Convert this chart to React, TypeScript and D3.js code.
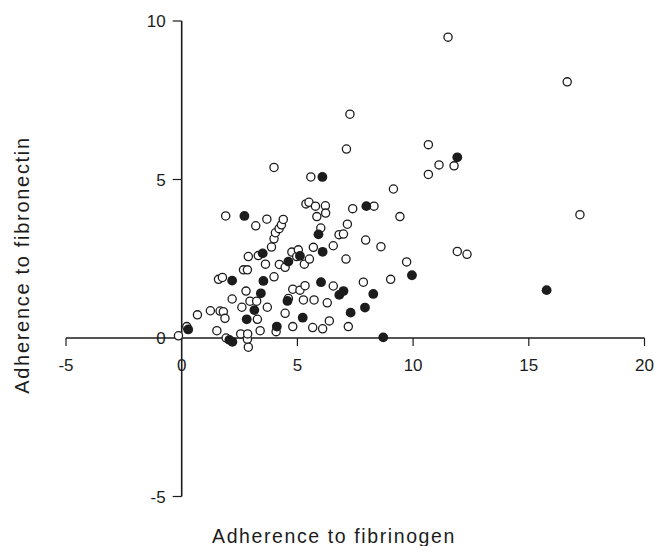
import React from "react";
import * as d3 from "d3";

const openX = [-0.14,0.22,0.68,1.24,1.52,1.66,1.80,1.87,1.92,1.59,1.76,1.90,2.18,2.55,2.60,2.67,2.78,2.84,2.84,2.85,2.88,2.88,2.95,3.20,3.24,3.27,3.31,3.39,3.62,3.68,3.70,3.88,3.99,3.99,3.99,4.05,4.08,4.21,4.31,4.39,4.22,4.47,4.47,4.61,4.76,4.80,4.80,4.97,5.04,5.11,5.26,5.30,5.33,5.37,5.50,5.52,5.58,5.66,5.69,5.72,5.78,5.84,6.01,6.09,6.21,6.22,6.29,6.38,6.55,6.55,6.80,6.99,7.10,7.12,7.16,7.20,7.27,7.39,7.85,7.95,8.31,8.61,9.03,9.15,9.43,9.72,10.66,10.66,11.12,11.51,11.77,11.91,12.33,16.66,17.21];
const openY = [0.07,0.36,0.73,0.86,0.23,0.85,0.83,0.62,0.00,1.85,1.91,3.85,1.23,0.13,0.97,2.15,1.48,2.15,-0.04,0.13,-0.29,2.57,1.16,3.54,1.16,0.59,2.60,0.23,2.33,3.75,0.97,2.87,3.13,1.93,5.38,3.32,0.20,3.45,3.57,3.74,2.32,2.23,0.78,1.25,2.71,1.54,0.36,2.57,2.78,1.51,1.20,2.33,1.65,4.23,4.28,2.49,5.08,0.33,2.86,1.20,4.16,3.83,3.47,0.29,4.17,3.94,1.11,0.54,2.91,1.64,3.26,3.28,2.49,5.96,3.59,0.36,7.06,4.08,1.76,3.09,4.16,2.88,1.85,4.70,3.83,2.40,6.10,5.16,5.46,9.49,5.43,2.73,2.64,8.08,3.89];

const filledX = [0.28,2.06,2.19,2.18,2.71,2.81,3.14,3.42,3.50,3.53,4.11,4.57,4.61,5.11,5.23,5.91,6.02,6.08,6.09,6.81,6.99,7.30,7.92,7.98,8.28,8.71,9.95,11.91,15.77];
const filledY = [0.27,-0.06,-0.12,1.81,3.85,0.59,0.88,1.41,2.67,1.80,0.36,1.17,2.41,2.59,0.64,3.27,1.76,5.08,2.72,1.36,1.48,0.80,0.96,4.16,1.39,0.02,1.98,5.70,1.51];

const xTicks = [-5, 0, 5, 10, 15, 20];
const yTicks = [-5, 0, 5, 10];
const xTitle = "Adherence to fibrinogen";
const yTitle = "Adherence to fibronectin";

const W = 655;
const H = 546;
const FONT = "'Liberation Sans', Arial, sans-serif";
const INK = "#1c1c1c";

export default function App() {
  const x = d3.scaleLinear().domain([-5, 20]).range([66, 644.5]);
  const y = d3.scaleLinear().domain([-5, 10]).range([496.5, 21]);
  const x0 = x(0);
  const y0 = y(0);

  const openPts = openX.map((v, i) => [v, openY[i]]);
  const filledPts = filledX.map((v, i) => [v, filledY[i]]);

  return (
    <svg
      width={W}
      height={H}
      style={{ position: "absolute", left: 0, top: 0, background: "#fff" }}
      fontFamily={FONT}
    >
      <rect x={0} y={0} width={W} height={H} fill="#fff" />
      {/* x axis */}
      <line x1={x(-5)} x2={x(20)} y1={y0} y2={y0} stroke={INK} strokeWidth={1.6} />
      {xTicks.map((t) => (
        <g key={"xt" + t}>
          {t !== 0 && (
            <line x1={x(t)} x2={x(t)} y1={y0} y2={y0 + 8} stroke={INK} strokeWidth={1.2} />
          )}
          <text
            x={x(t)}
            y={371}
            textAnchor="middle"
            fontSize={17}
            fill={INK}
          >
            {t}
          </text>
        </g>
      ))}
      {/* y axis */}
      <line x1={x0} x2={x0} y1={y(10)} y2={y(-5)} stroke={INK} strokeWidth={1.6} />
      {yTicks.map((t) => (
        <g key={"yt" + t}>
          {t !== 0 && (
            <line x1={x0 - 9} x2={x0} y1={y(t)} y2={y(t)} stroke={INK} strokeWidth={1.2} />
          )}
          <text
            x={x0 - 16}
            y={y(t)}
            dy="0.36em"
            textAnchor="end"
            fontSize={17}
            fill={INK}
          >
            {t}
          </text>
        </g>
      ))}
      {/* points */}
      {openPts.map((p, i) => (
        <circle
          key={"o" + i}
          cx={x(p[0])}
          cy={y(p[1])}
          r={4.1}
          fill="#fff"
          stroke={INK}
          strokeWidth={1.3}
        />
      ))}
      {filledPts.map((p, i) => (
        <circle key={"f" + i} cx={x(p[0])} cy={y(p[1])} r={4.9} fill={INK} />
      ))}
      {/* titles */}
      <text
        x={334}
        y={543}
        textAnchor="middle"
        fontSize={19.5}
        letterSpacing={1.6}
        fill={INK}
      >
        {xTitle}
      </text>
      <text
        transform={`translate(29, 265) rotate(-90)`}
        textAnchor="middle"
        fontSize={20}
        letterSpacing={1.7}
        fill={INK}
      >
        {yTitle}
      </text>
    </svg>
  );
}
